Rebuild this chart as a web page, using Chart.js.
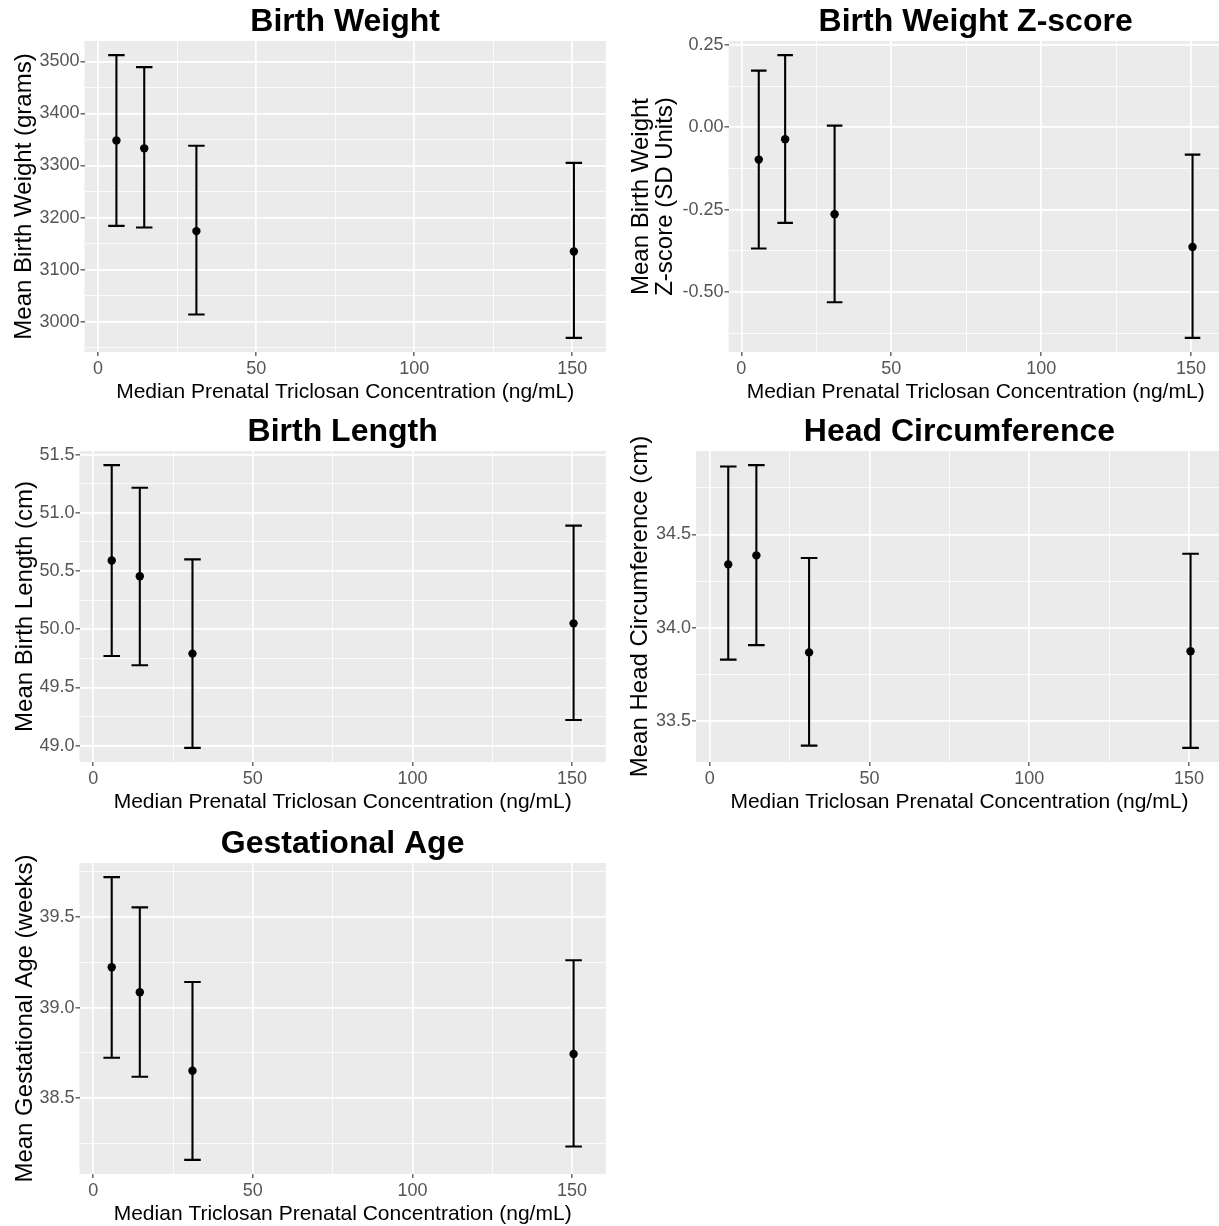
<!DOCTYPE html>
<html>
<head>
<meta charset="utf-8">
<title>Triclosan and birth outcomes</title>
<script src="https://cdn.jsdelivr.net/npm/chart.js@4.4.0/dist/chart.umd.min.js"></script>
<style>
    html, body { margin: 0; padding: 0; background: #ffffff; }
    body { position: relative; width: 1219px; height: 1226px; overflow: hidden; }
    canvas { position: absolute; }
</style>
</head>
<body>
<canvas id="bwChart"></canvas>
<canvas id="zChart"></canvas>
<canvas id="blChart"></canvas>
<canvas id="hcChart"></canvas>
<canvas id="gaChart"></canvas>
<script>
// Median prenatal triclosan per exposure group (ng/mL), same for every panel
const triclosanMedians = [5.8, 14.6, 31.1, 150.5];
const xTicks = [0, 50, 100, 150];
const xTickLabels = ['0', '50', '100', '150'];
const xMinorTicks = [25, 75, 125];
const capWidth = 5.2;

// Birth weight (grams)
const bwMean = [3348, 3333, 3174, 3135];
const bwLower = [3184, 3181, 3014, 2969];
const bwUpper = [3512, 3489, 3338, 3305];
const bwTicks = [3000, 3100, 3200, 3300, 3400, 3500];
const bwTickLabels = ['3000', '3100', '3200', '3300', '3400', '3500'];
const bwMinorTicks = [2950, 3050, 3150, 3250, 3350, 3450];

// Birth weight z-score (SD units)
const zMean = [-0.098, -0.036, -0.264, -0.363];
const zLower = [-0.368, -0.290, -0.531, -0.639];
const zUpper = [0.172, 0.219, 0.005, -0.083];
const zTicks = [-0.5, -0.25, 0, 0.25];
const zTickLabels = ['-0.50', '-0.25', '0.00', '0.25'];
const zMinorTicks = [-0.625, -0.375, -0.125, 0.125];

// Birth length (cm)
const blMean = [50.59, 50.455, 49.79, 50.05];
const blLower = [49.77, 49.69, 48.98, 49.22];
const blUpper = [51.41, 51.215, 50.60, 50.89];
const blTicks = [49.0, 49.5, 50.0, 50.5, 51.0, 51.5];
const blTickLabels = ['49.0', '49.5', '50.0', '50.5', '51.0', '51.5'];
const blMinorTicks = [49.25, 49.75, 50.25, 50.75, 51.25];

// Head circumference (cm)
const hcMean = [34.34, 34.388, 33.869, 33.875];
const hcLower = [33.83, 33.908, 33.37, 33.358];
const hcUpper = [34.864, 34.871, 34.374, 34.397];
const hcTicks = [33.5, 34.0, 34.5];
const hcTickLabels = ['33.5', '34.0', '34.5'];
const hcMinorTicks = [33.75, 34.25, 34.75];

// Gestational age (weeks)
const gaMean = [39.223, 39.085, 38.651, 38.744];
const gaLower = [38.723, 38.618, 38.159, 38.233];
const gaUpper = [39.721, 39.554, 39.142, 39.262];
const gaTicks = [38.5, 39.0, 39.5];
const gaTickLabels = ['38.5', '39.0', '39.5'];
const gaMinorTicks = [38.25, 38.75, 39.25, 39.75];

const FONT = "'Liberation Sans', Arial, sans-serif";
const CANVAS_H = 410;
const PLOT_TOP = 41;
const PLOT_BOTTOM = 352;

// ggplot-like panel background
const panelBackground = {
    id: 'panelBackground',
    beforeDraw(chart) {
        const { ctx, chartArea: a } = chart;
        ctx.save();
        ctx.fillStyle = '#EBEBEB';
        ctx.fillRect(a.left, a.top, a.right - a.left, a.bottom - a.top);
        ctx.restore();
    }
};

// default ggplot expansion: 5% each side
function expandRange(values) {
    const lo = Math.min(...values);
    const hi = Math.max(...values);
    const pad = (hi - lo) * 0.05;
    return [lo - pad, hi + pad];
}

function errorBarPoints(xs, lower, upper) {
    const pts = [];
    xs.forEach((x, i) => {
        pts.push({ x: x, y: lower[i] }, { x: x, y: upper[i] }, { x: x, y: null });
        pts.push({ x: x - capWidth / 2, y: upper[i] }, { x: x + capWidth / 2, y: upper[i] }, { x: x, y: null });
        pts.push({ x: x - capWidth / 2, y: lower[i] }, { x: x + capWidth / 2, y: lower[i] }, { x: x, y: null });
    });
    return pts;
}

function gridAxis(majors, labels, minors) {
    const labelMap = new Map(majors.map((v, i) => [v, labels[i]]));
    const all = majors.concat(minors).sort((a, b) => a - b);
    return {
        afterBuildTicks(scale) {
            scale.ticks = all.filter(v => v >= scale.min && v <= scale.max).map(v => ({ value: v }));
        },
        ticks: {
            autoSkip: false,
            maxRotation: 0,
            color: '#555555',
            font: { family: FONT, size: 18, lineHeight: 1 },
            callback: (value) => labelMap.has(value) ? labelMap.get(value) : ''
        },
        grid: {
            color: '#FFFFFF',
            lineWidth: (ctx) => labelMap.has(ctx.tick.value) ? 1.7 : 0.8,
            tickLength: 4,
            tickWidth: 1.1,
            tickColor: (ctx) => labelMap.has(ctx.tick.value) ? '#333333' : 'rgba(0,0,0,0)'
        },
        border: { display: false }
    };
}

function drawPanel(p) {
    const canvas = document.getElementById(p.id);
    canvas.width = p.width;
    canvas.height = CANVAS_H;
    canvas.style.left = p.left + 'px';
    canvas.style.top = p.top + 'px';

    const xRange = expandRange(triclosanMedians.map(v => v - capWidth / 2)
        .concat(triclosanMedians.map(v => v + capWidth / 2)));
    const yRange = expandRange(p.lower.concat(p.upper));

    const xAxis = gridAxis(xTicks, xTickLabels, xMinorTicks);
    xAxis.type = 'linear';
    xAxis.position = 'bottom';
    xAxis.min = xRange[0];
    xAxis.max = xRange[1];
    xAxis.ticks.padding = 4.5;
    xAxis.title = {
        display: true,
        text: p.xTitle,
        color: '#000000',
        font: { family: FONT, size: 21, lineHeight: 1 },
        padding: { top: 0, bottom: 7 }
    };
    xAxis.afterFit = (scale) => { scale.height = CANVAS_H - PLOT_BOTTOM; };

    const yAxis = gridAxis(p.ticks, p.tickLabels, p.minorTicks);
    yAxis.type = 'linear';
    yAxis.position = 'left';
    yAxis.min = yRange[0];
    yAxis.max = yRange[1];
    yAxis.ticks.padding = 1;
    yAxis.title = {
        display: true,
        text: p.yTitle,
        color: '#000000',
        font: { family: FONT, size: 24, lineHeight: p.yLine / 24 },
        padding: { top: p.yTitleX - p.yLine / 2, bottom: 0 }
    };
    yAxis.afterFit = (scale) => { scale.width = p.plotLeft; };

    return new Chart(canvas, {
        type: 'scatter',
        data: {
            datasets: [
                {
                    label: 'CI',
                    data: errorBarPoints(triclosanMedians, p.lower, p.upper),
                    showLine: true,
                    spanGaps: false,
                    borderColor: '#000000',
                    borderWidth: 2.1,
                    borderCapStyle: 'butt',
                    tension: 0,
                    pointRadius: 0,
                    pointHoverRadius: 0
                },
                {
                    label: 'Mean',
                    data: triclosanMedians.map((x, i) => ({ x: x, y: p.mean[i] })),
                    backgroundColor: '#000000',
                    borderWidth: 0,
                    pointRadius: 4.2
                }
            ]
        },
        options: {
            responsive: false,
            animation: false,
            devicePixelRatio: 1,
            layout: { padding: { left: 0, top: 0, bottom: 0, right: p.width - p.plotRight } },
            plugins: {
                legend: { display: false },
                tooltip: { enabled: false },
                title: {
                    display: true,
                    fullSize: false,
                    text: p.title,
                    color: '#000000',
                    font: { family: FONT, size: 32, weight: 'bold', lineHeight: 1 },
                    padding: { top: 6.5, bottom: PLOT_TOP - 32 - 6.5 }
                }
            },
            scales: { x: xAxis, y: yAxis }
        },
        plugins: [panelBackground]
    });
}

const panels = [
    {
        id: 'bwChart', left: 0, top: 0, width: 610, plotLeft: 84.5, plotRight: 608.5,
        title: 'Birth Weight', yTitle: 'Mean Birth Weight (grams)', yTitleX: 24, yLine: 24,
        xTitle: 'Median Prenatal Triclosan Concentration (ng/mL)',
        mean: bwMean, lower: bwLower, upper: bwUpper,
        ticks: bwTicks, tickLabels: bwTickLabels, minorTicks: bwMinorTicks
    },
    {
        id: 'zChart', left: 610, top: 0, width: 617, plotLeft: 118.5, plotRight: 616,
        title: 'Birth Weight Z-score', yTitle: ['Mean Birth Weight', 'Z-score (SD Units)'], yTitleX: 31, yLine: 24,
        xTitle: 'Median Prenatal Triclosan Concentration (ng/mL)',
        mean: zMean, lower: zLower, upper: zUpper,
        ticks: zTicks, tickLabels: zTickLabels, minorTicks: zMinorTicks
    },
    {
        id: 'blChart', left: 0, top: 410, width: 610, plotLeft: 79.5, plotRight: 608.5,
        title: 'Birth Length', yTitle: 'Mean Birth Length (cm)', yTitleX: 25, yLine: 24,
        xTitle: 'Median Prenatal Triclosan Concentration (ng/mL)',
        mean: blMean, lower: blLower, upper: blUpper,
        ticks: blTicks, tickLabels: blTickLabels, minorTicks: blMinorTicks
    },
    {
        id: 'hcChart', left: 610, top: 410, width: 617, plotLeft: 86, plotRight: 615,
        title: 'Head Circumference', yTitle: 'Mean Head Circumference (cm)', yTitleX: 30, yLine: 24,
        xTitle: 'Median Triclosan Prenatal Concentration (ng/mL)',
        mean: hcMean, lower: hcLower, upper: hcUpper,
        ticks: hcTicks, tickLabels: hcTickLabels, minorTicks: hcMinorTicks
    },
    {
        id: 'gaChart', left: 0, top: 822, width: 610, plotLeft: 79.5, plotRight: 608.5,
        title: 'Gestational Age', yTitle: 'Mean Gestational Age (weeks)', yTitleX: 25, yLine: 24,
        xTitle: 'Median Triclosan Prenatal Concentration (ng/mL)',
        mean: gaMean, lower: gaLower, upper: gaUpper,
        ticks: gaTicks, tickLabels: gaTickLabels, minorTicks: gaMinorTicks
    }
];

panels.forEach(drawPanel);
</script>
</body>
</html>
